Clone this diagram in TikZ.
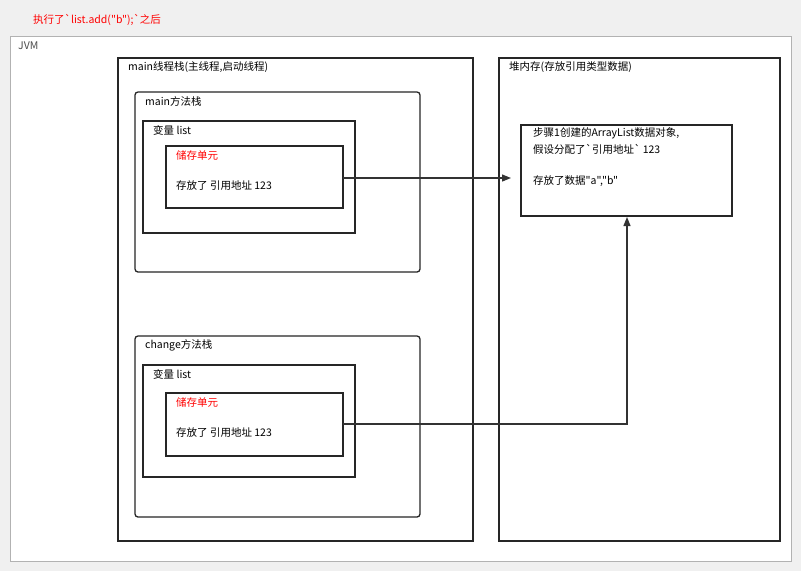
\documentclass[tikz,border=0pt]{standalone}
\usepackage{fontspec}
\setmainfont{Noto Sans CJK SC}[Ligatures=TeXOff]
\usetikzlibrary{arrows.meta}
\tikzset{
  frame/.style={draw=black!85, line width=1.3pt},
  method/.style={frame, rounded corners=3pt},
  lbl/.style={anchor=west, inner sep=0pt, font=\fontsize{10.5}{12}\selectfont},
  link/.style={draw=black!80, line width=1.2pt, -{Triangle[length=9pt,width=7pt]}}
}
\begin{document}
\begin{tikzpicture}[x=1pt,y=-1pt]
  \fill[gray!12] (0,0) rectangle (801,571);
  \draw[gray!60, fill=white] (10,36) rectangle (791,561);
  \node[lbl, text=red] (title) at (33,20) {执行了`list.add("b");`之后};
  \node[lbl, text=black!70] (jvm) at (18,46) {JVM};
  % thread stack
  \draw[frame] (118,58) rectangle (473,541);
  \node[lbl] (stk) at (128,67) {main线程栈(主线程,启动线程)};
  % main method
  \draw[method] (135,92) rectangle (420,272);
  \node[lbl] at (145,101) {main方法栈};
  \draw[frame] (143,121) rectangle (355,233);
  \node[lbl] at (153,130) {变量 list};
  \draw[frame] (166,146) rectangle (343,208);
  \coordinate (m1) at (343,178);
  \node[lbl, text=red] at (176,155) {储存单元};
  \node[lbl] at (176,186) {存放了 引用地址 123};
  % change method
  \draw[method] (135,336) rectangle (420,517);
  \node[lbl] at (145,345) {change方法栈};
  \draw[frame] (143,365) rectangle (355,477);
  \node[lbl] at (153,374) {变量 list};
  \draw[frame] (166,393) rectangle (343,456);
  \coordinate (c1) at (343,424);
  \node[lbl, text=red] at (176,402) {储存单元};
  \node[lbl] at (176,433) {存放了 引用地址 123};
  % heap
  \draw[frame] (499,58) rectangle (780,541);
  \node[lbl] (heap) at (509,67) {堆内存(存放引用类型数据)};
  \draw[frame] (521,125) rectangle (732,216);
  \node[lbl] at (533,133) {步骤1创建的ArrayList数据对象,};
  \node[lbl] at (533,149) {假设分配了`引用地址` 123};
  \node[lbl] at (533,181) {存放了数据"a","b"};
  \coordinate (h1) at (511,178);
  \coordinate (h2) at (627,217);
  % links
  \draw[link] (m1) -- (h1);
  \draw[link] (c1) -| (h2);
\end{tikzpicture}
\end{document}
